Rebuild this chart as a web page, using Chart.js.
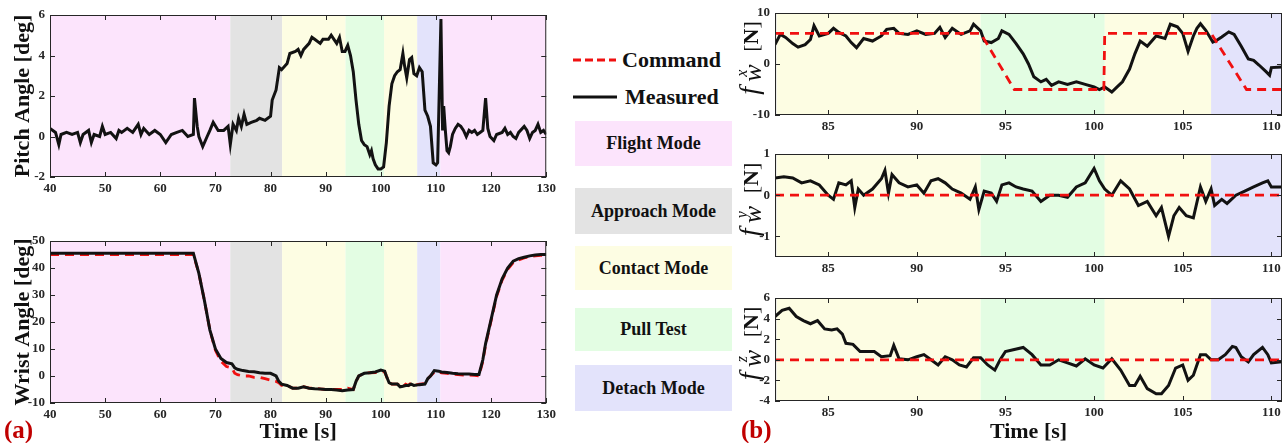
<!DOCTYPE html>
<html>
<head>
<meta charset="utf-8">
<script src="https://cdn.jsdelivr.net/npm/chart.js@4.4.0/dist/chart.umd.min.js"></script>
<style>
  body { margin: 0; width: 1286px; height: 443px; background: #fff; position: relative; overflow: hidden; font-family: "Liberation Serif", serif; }
  canvas { position: absolute; }
  .key { position: absolute; font-weight: bold; font-size: 22px; color: #111; line-height: 1; }
  .mode { position: absolute; left: 575px; width: 157px; display: flex; align-items: center; justify-content: center; font-weight: bold; font-size: 18px; color: #111; }
  .tag { position: absolute; color: #c00000; font-weight: bold; font-size: 25px; line-height: 1; }
</style>
</head>
<body>
<canvas id="pitch" width="560" height="200" style="left:0;top:0"></canvas>
<canvas id="wrist" width="560" height="218" style="left:0;top:225px"></canvas>
<div id="modeBoxes"></div>
<canvas id="fx" width="561" height="140" style="left:725px;top:0"></canvas>
<canvas id="fy" width="561" height="140" style="left:725px;top:140px"></canvas>
<canvas id="fz" width="561" height="163" style="left:725px;top:280px"></canvas>

<svg style="position:absolute;left:572px;top:55px" width="46" height="50">
  <line x1="1" y1="5" x2="44" y2="5" stroke="#f01010" stroke-width="3" stroke-dasharray="8 4"/>
  <line x1="1" y1="42" x2="45" y2="42" stroke="#111" stroke-width="3"/>
</svg>
<div class="key" style="left:622px;top:49px">Command</div>
<div class="key" style="left:625px;top:86px">Measured</div>
<div class="tag" style="left:4px;top:417px">(a)</div>
<div class="tag" style="left:741px;top:417px">(b)</div>

<script>
// mode shading (time edges and the mode of each span)
const modeEdges = [40, 72.7, 82.1, 93.6, 100.6, 106.6, 110.8, 130];
const modeSpans = ['Flight Mode', 'Approach Mode', 'Contact Mode', 'Pull Test', 'Contact Mode', 'Detach Mode', 'Flight Mode'];
const modeNames = ['Flight Mode', 'Approach Mode', 'Contact Mode', 'Pull Test', 'Detach Mode'];
const modeColors = ['#fce4fc', '#e3e3e3', '#fdfde3', '#e3fde3', '#e3e3fb'];
const modeBoxTop = [121, 188, 246, 308, 365];
const modeBoxH = [45, 46, 44, 43, 46];

// tick labels
const xTicksA = [40, 50, 60, 70, 80, 90, 100, 110, 120, 130];
const xTicksB = [85, 90, 95, 100, 105, 110];
const pitchTicks = [-2, 0, 2, 4, 6];
const wristTicks = [-10, 0, 10, 20, 30, 40, 50];
const fxTicks = [-10, 0, 10];
const fyTicks = [-1, 0, 1];
const fzTicks = [-4, -2, 0, 2, 4, 6];

// (a) pitch angle, measured
const pitchTime = [
  40,41,41.6,42,43,44,45,45.5,46,47,
  47.5,48,49,49.5,50,51,52,52.5,53,54,
  55,56,56.5,57,58,59,60,61,62,63,
  64,65,66,66.2,66.7,67,67.7,68.5,69,69.6,
  70.5,71.5,72.3,72.7,73.2,73.8,74.2,74.7,75.2,75.7,
  76.5,77.5,78,79,80,80.3,81,81.6,82,83,
  83.5,84.5,85,85.5,86,87,87.5,88,89,89.5,
  90.5,91,91.5,92,92.5,93,93.5,94,94.5,95,
  95.5,96,96.5,97,97.5,98,98.3,98.6,99,99.5,
  100,100.5,101,101.5,102,102.5,103,103.5,104,104.3,
  104.7,105.2,105.6,106,106.5,107,107.5,108,108.5,109,
  109.5,110,110.3,110.9,111.2,111.4,111.7,112,112.3,112.6,
  113,113.5,114,114.5,115,115.5,116,116.5,117,117.5,
  118,118.5,119,119.4,119.8,120.5,121,122,122.5,123,
  123.5,124,124.5,125,126,126.5,127,127.5,128,128.5,
  129,129.5,130
];
const pitchMeas = [
  0.4,0.2,-0.4,0.1,0.2,0.1,0.2,-0.3,0.1,0.3,
  -0.3,0.1,0,0.5,0.1,0.2,-0.1,0.3,0.2,0.4,
  0.2,0.6,0.1,0.4,0.1,0.3,0.1,-0.3,0.1,0.2,
  0.3,0,0.1,1.9,0.5,0,-0.5,0,0.3,0.7,
  0.3,0.3,0.5,-0.4,0.6,0.3,0.9,0.5,1.1,0.6,
  0.7,0.8,0.9,0.8,1.0,1.8,2.3,3.4,3.3,3.6,
  4.1,4.2,4.3,4.0,4.3,4.6,4.9,4.8,4.6,4.8,
  4.8,5.0,4.8,4.6,4.9,4.2,4.2,4.5,4.0,3.2,
  1.8,0.6,-0.2,-0.4,-0.5,-0.9,-0.7,-1.1,-1.4,-1.6,
  -1.6,-1.5,-0.3,1.5,2.6,3.0,3.2,3.3,4.1,3.5,
  2.9,3.8,3.9,3.1,3.0,3.4,3.2,1.3,1.0,0.5,
  -1.3,-1.4,-1.3,5.8,0.3,1.5,0.3,-0.7,-0.8,-0.5,
  0.1,0.4,0.6,0.5,0.3,0.0,0.3,0.2,0.3,0.1,
  0.2,0.3,1.9,0.4,0.0,-0.2,0.1,0.2,0.4,0.1,
  0.2,0,-0.1,0.2,0.5,0.3,-0.1,0.2,0.3,0.6,
  0.2,0.3,0.1
];

// (a) wrist angle, command and measured
const wristTime = [
  40,66,67,68,69,70,71,72,73,73.5,
  74,75,76,77,78,79,80,81,81.5,82,
  83,84,85,86,87,88,89,90,91,92,
  93,94,95,95.5,96,97,98,99,100,100.7,
  101,101.5,102,103,103.5,104,104.5,105,105.5,106,
  107,108,108.5,109,109.7,110.5,111,112,113,114,
  115,116,117,117.8,118.5,119,120,121,122,123,
  124,125,126,127,128,129,130
];
const wristMeas = [
  45.5,45.5,38,28,17,10,6.5,5,4.5,3,
  2.5,2,1.7,1.6,1.2,1.0,1.0,0,-2,-3,
  -3.5,-4.5,-4.5,-4,-4.5,-4.7,-4.8,-5,-5,-5.2,
  -5.5,-5.2,-5,-2,0,1,1.2,1.5,2.2,1.8,
  0,-2.5,-3,-3,-4,-3.8,-3.5,-3.5,-3,-3.5,
  -3.2,-3,-1,0,2,1.8,1.5,1.3,1,0.8,
  0.7,0.7,0.6,0.6,6,12,21,30,36,40,
  42.5,43.5,44,44.5,44.8,45,45
];
const wristCmd = [
  45,45,38,28,17,9.5,5.5,3.5,3,1,
  0.5,0,0,-0.5,-0.5,-1,-1.5,-2,-2.5,-3.5,
  -3.5,-4.5,-4.5,-4,-4.5,-4.5,-4.8,-5,-5,-5,
  -5,-4.5,-5,-2,0,1,1.2,1.3,1.5,1.5,
  0,-2.5,-3,-3,-3.5,-4,-3,-3.5,-2.5,-3.5,
  -3,-2.8,-1,0,1.5,1.5,1.2,1,0.7,0.5,
  0.3,0.3,0.2,0,5.5,11.5,20.5,29.5,35.5,39.5,
  42,43,43.7,44.2,44.5,44.7,44.7
];

// (b) wrist force x
const fxTime = [
  82,82.3,82.6,83,83.3,83.7,84,84.2,84.5,85,
  85.3,85.6,86,86.3,86.6,87,87.5,88,88.3,88.7,
  89,89.5,90,90.5,91,91.3,91.6,92,92.5,93,
  93.2,93.6,93.8,94.2,94.6,94.8,95.2,95.6,96,96.3,
  96.6,97,97.3,97.6,98,98.5,99,99.5,100,100.3,
  100.6,101,101.3,101.6,102,102.3,102.6,103,103.5,104,
  104.3,104.7,105,105.3,105.6,105.8,106,106.3,106.7,106.9,
  107.2,107.6,107.9,108.3,108.7,109,109.3,109.7,109.9,110,
  110.6
];
const fxMeas = [
  3.8,5.8,5.2,4.0,3.3,3.8,4.8,7.5,5.5,6.0,
  7.0,6.2,5.5,4.2,3.2,5.0,4.5,5.5,6.8,7.0,
  6.0,5.8,6.5,5.8,6.0,7.2,5.2,7.0,5.8,6.5,
  7.8,6.5,4.5,4.2,5.0,6.5,5.8,4.0,2.0,0.0,
  -2.5,-3.5,-3.0,-4.2,-3.5,-4.0,-3.5,-4.0,-4.5,-5.0,
  -4.5,-5.5,-4.5,-3.5,-1.0,2.0,4.5,3.5,5.5,5.0,
  7.8,7.3,6.0,2.5,5.5,7.0,7.9,6.6,4.3,4.6,
  5.3,6.3,5.8,3.5,1.0,0.7,-0.2,-1.5,-2.2,-0.7,
  -0.6
];
const fxCmdTime = [82, 93.6, 95.5, 100.55, 100.6, 106.6, 108.6, 110.6];
const fxCmd = [6, 6, -5, -5, 6, 6, -5, -5];

// (b) wrist force y
const fyTime = [
  82,82.5,83,83.5,84,84.5,85,85.3,85.6,86,
  86.3,86.5,86.7,87,87.5,88,88.2,88.4,88.6,89,
  89.5,90,90.4,90.8,91.2,91.6,92,92.5,93,93.3,
  93.5,93.8,94.2,94.5,94.8,95.2,95.6,96,96.5,97,
  97.5,98,98.5,99,99.5,100,100.3,100.6,101,101.5,
  102,102.5,103,103.5,103.8,104.2,104.5,104.8,105.2,105.6,
  106,106.3,106.6,106.8,107.2,107.5,108,108.5,109,109.5,
  109.8,110,110.6
];
const fyMeas = [
  0.42,0.45,0.42,0.3,0.35,0.25,0.0,-0.1,0.3,0.25,
  0.35,-0.3,0.15,0.0,0.15,0.4,0.6,0.05,0.5,0.3,
  0.2,0.25,0.05,0.35,0.4,0.3,0.15,0.05,-0.1,0.2,
  -0.35,0.1,0.05,-0.15,0.25,0.3,0.2,0.15,0.1,-0.15,
  0.0,0.0,-0.05,0.2,0.3,0.65,0.35,0.15,0.0,0.35,
  0.15,-0.25,-0.15,-0.5,-0.3,-1.0,-0.5,-0.3,-0.5,-0.55,
  0.2,-0.15,0.15,-0.25,-0.1,-0.2,0.0,0.1,0.2,0.3,
  0.35,0.2,0.2
];
const fyCmdTime = [82, 110.6];
const fyCmd = [0, 0];

// (b) wrist force z
const fzTime = [
  82,82.4,82.8,83.2,83.6,84,84.4,84.8,85.2,85.5,
  85.8,86,86.4,86.8,87.2,87.6,88,88.5,88.7,89,
  89.5,90,90.4,90.8,91.2,91.6,92,92.4,92.8,93.2,
  93.6,94,94.4,94.7,95,95.5,96,96.5,97,97.5,
  98,98.5,99,99.5,100,100.5,101,101.5,102,102.3,
  102.6,103,103.5,103.8,104.2,104.6,105,105.3,105.6,106,
  106.3,106.6,107,107.4,107.8,108,108.3,108.7,109,109.5,
  109.8,110,110.6
];
const fzMeas = [
  4.2,4.8,5.0,4.2,3.8,3.5,3.8,3.0,2.9,3.0,
  2.5,1.6,1.5,0.8,0.8,0.8,0.3,0.4,1.4,0.1,
  0.0,0.3,0.5,0.0,-0.5,0.3,0.0,-0.5,-0.7,0.2,
  0.2,-0.5,-1.0,0.0,0.8,1.0,1.2,0.5,-0.5,-0.5,
  0.0,-0.3,-0.6,0.1,-0.5,-0.8,0.1,-1.0,-2.5,-2.5,
  -1.6,-2.8,-3.3,-3.3,-2.5,-0.8,-0.5,-2.0,-1.5,0.5,
  0.5,0.0,0.0,0.5,1.3,1.2,0.3,-0.2,0.5,1.2,
  0.5,-0.3,-0.2
];
const fzCmdTime = [82, 110.6];
const fzCmd = [0, 0];

const FONT = '"Liberation Serif", "Times New Roman", serif';
const INK = '#262626';

// legend boxes for the modes
modeNames.forEach((name, i) => {
  const d = document.createElement('div');
  d.className = 'mode';
  d.style.top = modeBoxTop[i] + 'px';
  d.style.height = modeBoxH[i] + 'px';
  d.style.background = modeColors[i];
  d.textContent = name;
  document.getElementById('modeBoxes').appendChild(d);
});

// shading behind the lines, plus a MATLAB style box with inward ticks
const framePlugin = {
  id: 'frame',
  beforeDatasetsDraw(chart) {
    const {ctx, chartArea: a, scales: {x}} = chart;
    ctx.save();
    ctx.beginPath();
    ctx.rect(a.left, a.top, a.width, a.height);
    ctx.clip();
    for (let i = 0; i < modeSpans.length; i++) {
      const x0 = x.getPixelForValue(modeEdges[i]);
      const x1 = x.getPixelForValue(modeEdges[i + 1]);
      ctx.fillStyle = modeColors[modeNames.indexOf(modeSpans[i])];
      ctx.fillRect(x0, a.top, x1 - x0, a.height);
    }
    ctx.restore();
  },
  afterDatasetsDraw(chart) {
    const {ctx, chartArea: a, scales: {x, y}} = chart;
    ctx.save();
    ctx.strokeStyle = INK;
    ctx.lineWidth = 1;
    ctx.strokeRect(a.left + 0.5, a.top + 0.5, a.width - 1, a.height - 1);
    ctx.beginPath();
    x.ticks.forEach(t => {
      const px = Math.round(x.getPixelForValue(t.value)) + 0.5;
      ctx.moveTo(px, a.bottom); ctx.lineTo(px, a.bottom - 5);
      ctx.moveTo(px, a.top); ctx.lineTo(px, a.top + 5);
    });
    y.ticks.forEach(t => {
      const py = Math.round(y.getPixelForValue(t.value)) + 0.5;
      ctx.moveTo(a.left, py); ctx.lineTo(a.left + 5, py);
      ctx.moveTo(a.right, py); ctx.lineTo(a.right - 5, py);
    });
    ctx.stroke();
    ctx.restore();
  },
  afterDraw(chart, args, opts) {
    if (!opts.sup) return;
    // f_w^sup [N] drawn as rotated text
    const {ctx, chartArea: a} = chart;
    ctx.save();
    ctx.translate(a.left - 17, (a.top + a.bottom) / 2 - 6);
    ctx.rotate(-Math.PI / 2);
    ctx.fillStyle = '#111';
    ctx.textBaseline = 'alphabetic';
    const parts = [
      {t: 'f', f: 'italic 28px ' + FONT, dy: 0, w: 13},
      {t: 'w', f: 'italic 26px ' + FONT, dy: 3, w: 0},
      {t: opts.sup, f: 'italic 16px ' + FONT, dy: -11, w: 30, dx: 5},
      {t: '[', f: '22px ' + FONT, dy: 0},
      {t: 'N', f: 'bold 22px ' + FONT, dy: 0},
      {t: ']', f: '22px ' + FONT, dy: 0}
    ];
    let total = 0;
    parts.forEach(p => { ctx.font = p.f; p.adv = p.w !== undefined ? p.w : ctx.measureText(p.t).width; total += p.adv; });
    let cx = -total / 2;
    parts.forEach(p => {
      ctx.font = p.f;
      ctx.fillText(p.t, cx + (p.dx || 0), p.dy);
      cx += p.adv;
    });
    ctx.restore();
  }
};

function series(xs, ys, cmd, order) {
  return {
    data: xs.map((t, i) => ({x: t, y: ys[i]})),
    borderColor: cmd ? '#f01010' : '#121212',
    borderWidth: cmd ? 2.8 : 3,
    borderDash: cmd ? [9, 6] : [],
    pointRadius: 0,
    tension: 0,
    order: order
  };
}

function makeChart(id, o) {
  return new Chart(document.getElementById(id), {
    type: 'line',
    data: {datasets: o.datasets},
    plugins: [framePlugin],
    options: {
      responsive: false,
      animation: false,
      events: [],
      layout: {padding: {top: o.top, right: 4, left: 0, bottom: 0}},
      plugins: {legend: {display: false}, tooltip: {enabled: false}, frame: {sup: o.sup}},
      scales: {
        x: {
          type: 'linear', min: o.xmin, max: o.xmax,
          grid: {display: false, drawTicks: false}, border: {display: false},
          afterBuildTicks: s => { s.ticks = o.xticks.map(v => ({value: v})); },
          afterFit: s => { s.height = o.xh; },
          ticks: {padding: 4, color: INK, font: {family: FONT, size: 13, weight: 'bold'}, maxRotation: 0, callback: v => String(v)},
          title: {display: !!o.xtitle, text: o.xtitle, color: '#111', padding: 0, font: {family: FONT, size: 22, weight: 'bold', lineHeight: 1}}
        },
        y: {
          type: 'linear', min: o.ymin, max: o.ymax,
          grid: {display: false, drawTicks: false}, border: {display: false},
          afterBuildTicks: s => { s.ticks = o.yticks.map(v => ({value: v})); },
          afterFit: s => { s.width = o.yw; },
          ticks: {padding: 5, color: INK, font: {family: FONT, size: 13, weight: 'bold'}, callback: v => String(v)},
          title: {display: !!o.ytitle, text: o.ytitle, color: '#111', padding: {top: 12, bottom: 0}, font: {family: FONT, size: 22, weight: 'bold', lineHeight: 1}}
        }
      }
    }
  });
}

makeChart('pitch', {
  datasets: [series(pitchTime, pitchMeas, false, 1)],
  top: 15, xh: 23, yw: 50, xmin: 40, xmax: 130, ymin: -2, ymax: 6,
  xticks: xTicksA, yticks: pitchTicks, ytitle: 'Pitch Angle [deg]'
});
makeChart('wrist', {
  datasets: [series(wristTime, wristCmd, true, 2), series(wristTime, wristMeas, false, 1)],
  top: 16, xh: 40, yw: 50, xmin: 40, xmax: 130, ymin: -10, ymax: 50,
  xticks: xTicksA, yticks: wristTicks, ytitle: 'Wrist Angle [deg]', xtitle: 'Time [s]'
});
makeChart('fx', {
  datasets: [series(fxTime, fxMeas, false, 2), series(fxCmdTime, fxCmd, true, 1)],
  top: 13, xh: 25, yw: 50, xmin: 82, xmax: 110.6, ymin: -10, ymax: 10,
  xticks: xTicksB, yticks: fxTicks, sup: 'x'
});
makeChart('fy', {
  datasets: [series(fyTime, fyMeas, false, 2), series(fyCmdTime, fyCmd, true, 1)],
  top: 14, xh: 23, yw: 50, xmin: 82, xmax: 110.6, ymin: -1.5, ymax: 1,
  xticks: xTicksB, yticks: fyTicks, sup: 'y'
});
makeChart('fz', {
  datasets: [series(fzTime, fzMeas, false, 2), series(fzCmdTime, fzCmd, true, 1)],
  top: 18, xh: 42, yw: 50, xmin: 82, xmax: 110.6, ymin: -4, ymax: 6,
  xticks: xTicksB, yticks: fzTicks, sup: 'z', xtitle: 'Time [s]'
});
</script>
</body>
</html>
